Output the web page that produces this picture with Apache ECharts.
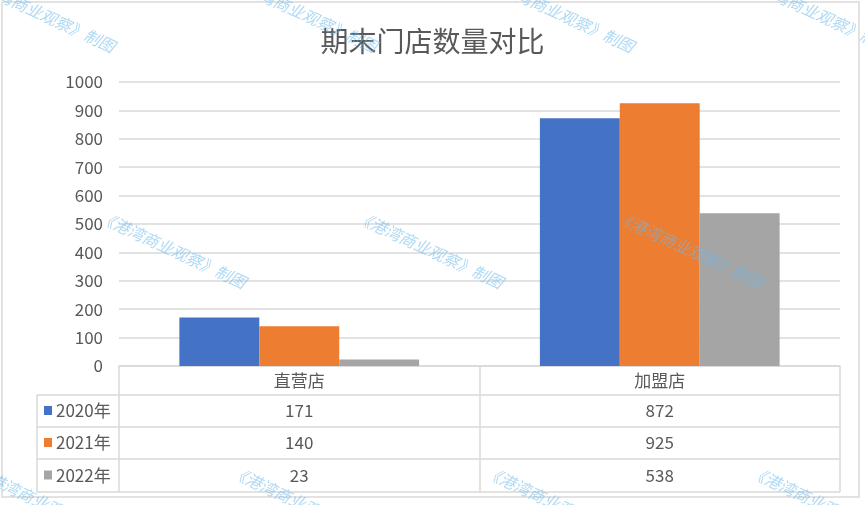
<!DOCTYPE html>
<html><head><meta charset="utf-8">
<script src="https://cdn.jsdelivr.net/npm/echarts@6/dist/echarts.min.js"></script>
<style>html,body{margin:0;padding:0;background:#fff}#c{width:865px;height:505px}</style>
</head><body><div id="c"></div>
<script>
const title = '期末门店数量对比';
const categories = ['直营店', '加盟店'];
const seriesNames = ['2020年', '2021年', '2022年'];
const values2020 = [171, 872];
const values2021 = [140, 925];
const values2022 = [23, 538];
const yTicks = [0, 100, 200, 300, 400, 500, 600, 700, 800, 900, 1000];
const watermark = '《港湾商业观察》制图';

const colors = ['#4472C4', '#ED7D31', '#A5A5A5'];
const seriesValues = [values2020, values2021, values2022];
const font = '"Noto Sans CJK SC", "Noto Sans", sans-serif';
const txt = '#595959';
const lineC = '#d9d9d9';

const chart = echarts.init(document.getElementById('c'), null, {renderer: 'canvas'});
const baseOption = {
  animation: false,
  color: colors,
  title: {text: title, left: 'center', top: 22, textStyle: {fontFamily: font, fontSize: 28, fontWeight: 'normal', color: txt}},
  grid: {left: 119, right: 25, top: 82, bottom: 139, containLabel: false},
  xAxis: {
    type: 'category', data: categories,
    axisLine: {lineStyle: {color: lineC, width: 1.5}},
    axisTick: {show: true, length: 126, lineStyle: {color: lineC, width: 1.5}},
    axisLabel: {fontFamily: font, fontSize: 17, color: txt, margin: 6}
  },
  yAxis: {
    type: 'value', min: yTicks[0], max: yTicks[yTicks.length - 1], interval: 100,
    axisLine: {show: false}, axisTick: {show: false},
    axisLabel: {fontFamily: font, fontSize: 17, color: txt, margin: 16, formatter: v => String(v)},
    splitLine: {lineStyle: {color: lineC, width: 1.5}}
  },
  series: seriesNames.map((n, i) => ({
    name: n, type: 'bar', data: seriesValues[i], barGap: '0%', barCategoryGap: '33.5%', z: 2
  }))
};
chart.setOption(baseOption);

const x0 = chart.convertToPixel({xAxisIndex: 0}, categories[0]);
const x1 = chart.convertToPixel({xAxisIndex: 0}, categories[1]);
const yZero = chart.convertToPixel({yAxisIndex: 0}, 0);
const half = (x1 - x0) / 2;
const tableLeft = 37, tableRight = x1 + half;
const rowTops = [yZero + 29, yZero + 61, yZero + 93, yZero + 126];
const g = [];
rowTops.forEach(y => g.push({type: 'line', shape: {x1: tableLeft, y1: y, x2: tableRight, y2: y}, style: {stroke: lineC, lineWidth: 1.5}}));
g.push({type: 'line', shape: {x1: tableLeft, y1: rowTops[0], x2: tableLeft, y2: rowTops[3]}, style: {stroke: lineC, lineWidth: 1.5}});
seriesNames.forEach((n, i) => {
  const cy = (rowTops[i] + rowTops[i + 1]) / 2;
  g.push({type: 'rect', shape: {x: 44, y: cy - 5, width: 8, height: 9}, style: {fill: colors[i]}});
  g.push({type: 'text', x: 56, y: cy, style: {text: n, fontFamily: font, fontSize: 17, fill: txt, verticalAlign: 'middle', align: 'left'}});
  categories.forEach((c, j) => {
    const cx = j === 0 ? x0 : x1;
    g.push({type: 'text', x: cx, y: cy, style: {text: String(seriesValues[i][j]), fontFamily: font, fontSize: 17, fill: txt, verticalAlign: 'middle', align: 'center'}});
  });
});
g.push({type: 'rect', shape: {x: 2, y: 2, width: 857, height: 495}, style: {fill: 'none', stroke: '#d9d9d9', lineWidth: 1.5}, z: 0});
const wmStarts = [[-31, -20], [231, -20], [488, -20], [745, -20], [100, 216], [357, 216], [617, 216], [-25, 471], [232, 471], [486, 471], [751, 471]];
wmStarts.forEach(p => g.push({type: 'text', x: p[0], y: p[1], rotation: -25 * Math.PI / 180, z: 100,
  style: {text: watermark, fontFamily: font, fontSize: 16, fontStyle: 'italic', fill: 'rgba(110,185,235,0.55)', verticalAlign: 'middle', align: 'left'}}));
chart.setOption({graphic: {elements: g}});
</script></body></html>
